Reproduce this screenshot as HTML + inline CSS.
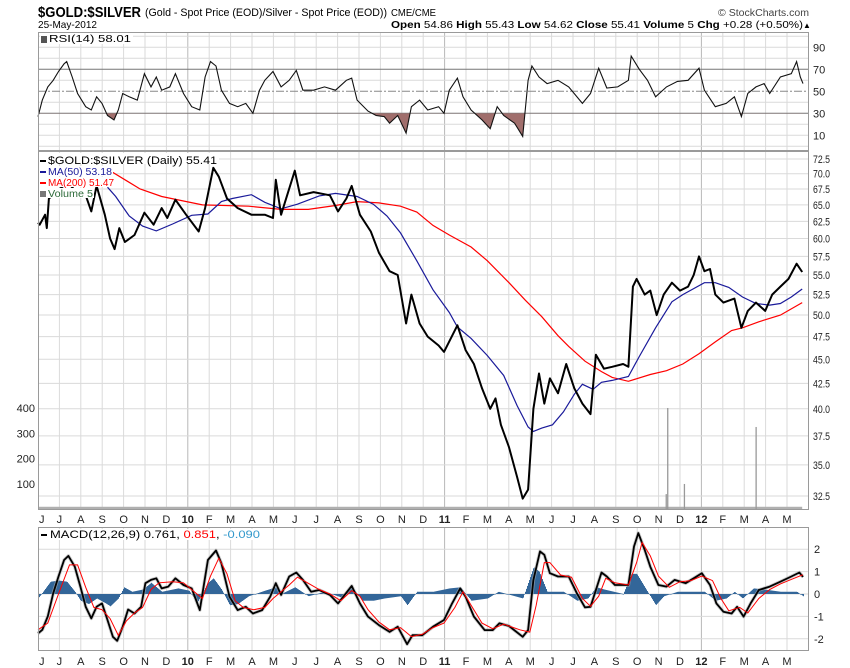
<!DOCTYPE html>
<html><head><meta charset="utf-8">
<style>
html,body{margin:0;padding:0;background:#fff;}
svg{display:block;font-family:"Liberation Sans",Arial,sans-serif;}
</style></head>
<body>
<svg id="chart" width="850" height="668" viewBox="0 0 850 668" xmlns="http://www.w3.org/2000/svg">
<g>
  <text x="38" y="17" font-size="15" font-weight="bold" textLength="103" lengthAdjust="spacingAndGlyphs">$GOLD:$SILVER</text>
  <text x="145" y="16" font-size="11" textLength="242" lengthAdjust="spacingAndGlyphs">(Gold - Spot Price (EOD)/Silver - Spot Price (EOD))</text>
  <text x="391" y="16" font-size="10" textLength="45" lengthAdjust="spacingAndGlyphs">CME/CME</text>
  <text x="718" y="16" font-size="10" fill="#444" textLength="91" lengthAdjust="spacingAndGlyphs">© StockCharts.com</text>
  <text x="38" y="28" font-size="10.5" textLength="59" lengthAdjust="spacingAndGlyphs">25-May-2012</text>
  <text x="391" y="28" font-size="10.5" textLength="412" lengthAdjust="spacingAndGlyphs"><tspan font-weight="bold">Open</tspan> 54.86  <tspan font-weight="bold">High</tspan> 55.43  <tspan font-weight="bold">Low</tspan> 54.62  <tspan font-weight="bold">Close</tspan> 55.41  <tspan font-weight="bold">Volume</tspan> 5  <tspan font-weight="bold">Chg</tspan> +0.28 (+0.50%)</text>
  <text x="803" y="28" font-size="8">▲</text>
</g>
<g id="grid"></g>
<g id="marks"></g>
<g id="overlay"></g>
</svg>
<script>
// ---------- DATA (t = months since 1-Jun-2009) ----------
const monthLabels = ["J","J","A","S","O","N","D","10","F","M","A","M","J","J","A","S","O","N","D","11","F","M","A","M","J","J","A","S","O","N","D","12","F","M","A","M"];
const priceTicks = [32.5,35,37.5,40,42.5,45,47.5,50,52.5,55,57.5,60,62.5,65,67.5,70,72.5];
const rsiTicks = [10,30,50,70,90];
const macdTicks = [-2,-1,0,1,2];
const volTicks = [100,200,300,400];

const priceDates = [0,0.08,0.33,0.41,0.51,0.71,1.0,1.4,1.8,2.0,2.23,2.49,2.74,3.12,3.37,3.58,3.8,4.06,4.51,4.97,5.4,5.78,6.04,6.42,6.92,7.51,7.81,8.19,8.45,8.83,9.33,9.97,10.6,10.98,11.11,11.36,12.0,12.25,12.88,13.64,14.02,14.41,14.66,15.04,15.55,15.93,16.43,16.81,17.2,17.45,17.83,18.21,18.72,18.97,19.6,19.98,20.37,20.75,21.13,21.38,21.63,22.01,22.39,22.65,22.9,23.15,23.41,23.66,23.92,24.3,24.68,25.06,25.44,25.82,26.07,26.45,26.83,27.34,27.59,27.8,27.97,28.35,28.61,28.91,29.24,29.62,30.0,30.38,30.64,30.89,31.14,31.4,31.65,32.03,32.54,32.87,33.17,33.55,33.98,34.31,34.69,35.07,35.45,35.71];
const priceValues = [62.3,62,63.5,61.5,66,66.5,67.5,68.5,67,66.5,66.5,64,68,63.5,60,58.5,61.5,59.5,60.5,63.8,62,64.5,63,65.8,63.5,61,64.5,71,69.5,66,64.5,63.5,63.5,63,69,63.5,70.5,66.5,67,66.5,64,66,68,63.5,61,58,55.5,55,49,52.5,49,47.5,46.5,45.8,48.8,46,44.5,42,40,41,38.5,36.5,34,32.3,33,40,43.5,40.5,43,41.5,44.5,42,40.5,39.5,45.5,44,44.2,44.5,44.2,53.5,54.5,52.5,53,50,52.5,54,53,53.5,55,57.5,55.5,55.8,52.5,51.5,52,48.5,50.5,51.5,50.5,52.5,53.5,54.5,56.5,55.4];

const ma50Dates = [3.25,3.63,4.26,4.89,5.53,6.29,7.18,7.94,8.57,9.08,9.97,10.6,11.36,12.12,13.14,13.9,14.91,15.67,16.31,16.94,17.7,18.46,19.22,19.6,20.24,21.0,21.76,22.39,22.9,23.15,23.54,24.04,24.55,25.06,25.44,25.94,26.33,26.83,27.59,28.1,28.86,29.62,30.13,31.14,31.65,32.28,32.92,33.55,34.19,34.69,35.2,35.71];
const ma50Values = [67.8,66.3,63.3,61.8,61.1,62.1,63.4,63.6,65.5,66.0,66.6,65.4,64.4,65.1,66.4,66.8,66.3,65.1,63.3,60.8,56.9,53.1,50.3,48.6,47.3,45.4,43.3,40.3,38.3,37.9,38.2,38.5,39.7,41.4,42.4,41.9,42.6,42.8,43.2,45.3,48.5,51.6,52.5,54.0,54.0,53.4,52.2,51.4,51.2,51.4,52.2,53.2];

const ma200Dates = [3.37,4.77,5.78,6.8,7.68,9.84,11.36,12.63,13.9,14.91,15.93,16.94,17.7,18.46,19.22,20.24,21.0,22.01,22.77,23.54,24.3,24.8,25.56,26.33,26.83,27.59,28.61,29.37,30.13,30.89,31.65,32.41,32.92,33.68,34.69,35.71];
const ma200Values = [70.5,67.5,66.3,65.6,65,64.8,64.3,64.3,64.9,65.5,65.3,64.8,63.9,61.9,60.5,58.8,56.9,54.0,51.8,49.8,47.6,46.4,44.8,43.7,43.1,42.7,43.4,43.8,44.5,45.6,46.9,48.2,48.5,49.2,50,51.5];

const volDates = [29.35,29.42,30.2,33.55];
const volValues = [60,400,100,325];
const typicalVolume = 10;

const rsiDates = [0,0.2,0.46,0.71,0.96,1.22,1.34,1.6,1.85,2.23,2.49,2.74,2.99,3.25,3.55,3.75,3.96,4.26,4.64,4.97,5.28,5.53,5.78,6.16,6.42,6.8,7.18,7.56,7.81,8.06,8.32,8.57,8.95,9.33,9.71,10.04,10.35,10.6,10.98,11.36,11.74,12.07,12.38,12.88,13.39,13.9,14.41,14.66,14.91,15.42,15.8,16.18,16.43,16.81,17.2,17.45,17.83,18.21,18.72,18.97,19.22,19.6,19.86,20.24,20.75,21.13,21.46,21.76,22.27,22.65,22.9,23.08,23.41,23.79,24.3,24.8,25.44,25.82,26.2,26.58,27.09,27.59,27.72,28.1,28.48,28.86,29.37,29.88,30.38,30.89,31.14,31.65,32.16,32.54,32.87,33.17,33.55,33.93,34.19,34.69,35.2,35.45,35.62,35.75];
const rsiValues = [27,42,54,60,68,75,77,63,48,36,33,45,39,28,24,33,48,45,42,66,54,63,51,54,66,48,36,33,63,77,73,51,39,36,39,30,51,60,68,54,60,69,51,51,54,51,60,62,42,32,28,27,21,28,12,36,42,33,36,30,51,62,45,33,24,16,36,28,21,9,60,73,63,57,60,54,39,48,71,53,54,60,82,70,60,45,54,59,60,71,51,36,39,45,27,48,54,57,48,63,66,77,63,57];

const macdDates = [0,0.2,0.46,0.71,0.96,1.22,1.42,1.72,1.98,2.23,2.49,2.74,2.99,3.25,3.5,3.7,3.96,4.21,4.51,4.82,5.02,5.28,5.53,5.78,6.09,6.42,6.8,7.18,7.56,7.94,8.32,8.57,8.95,9.33,9.71,10.04,10.47,10.85,11.11,11.36,11.74,12.07,12.38,12.76,13.14,13.64,14.02,14.66,15.04,15.42,15.93,16.43,16.81,17.25,17.5,17.96,18.46,18.97,19.35,19.73,19.98,20.37,20.87,21.25,21.56,22.01,22.65,22.9,23.15,23.46,23.66,23.92,24.3,24.8,25.18,25.56,25.82,26.07,26.33,26.58,26.96,27.59,27.85,28.05,28.35,28.61,28.99,29.37,29.75,30.26,30.64,31.02,31.4,31.7,32.03,32.41,32.67,32.97,33.3,33.68,34.19,34.69,35.2,35.58,35.75];
const macdValues = [-1.76,-1.6,-1.0,0.03,0.78,1.52,1.7,1.22,0.33,-0.57,-1.09,-0.57,-0.42,-1.16,-1.91,-2.09,-1.46,-0.69,-0.87,-0.57,0.48,0.63,0.7,0.25,0.33,0.7,0.4,0.25,-0.72,1.52,1.94,1.37,-0.12,-0.72,-0.57,-0.87,-0.72,-0.12,0.48,-0.04,0.78,0.96,0.63,0.1,0.18,-0.04,-0.42,0.36,-0.42,-1.01,-1.39,-1.69,-1.46,-2.24,-1.84,-1.84,-1.46,-1.16,-0.42,0.25,-0.12,-1.01,-1.61,-1.61,-1.31,-1.43,-1.91,-1.61,0.63,1.9,1.75,0.93,0.78,0.78,0.03,-0.6,-0.57,0.18,0.96,0.78,0.4,0.4,2.12,2.72,1.97,1.22,0.4,0.33,0.63,0.48,0.7,0.93,0.4,-0.42,-0.79,-0.87,-0.57,-1.01,-0.42,0.18,0.33,0.55,0.78,0.96,0.76];

const signalDates = [0,0.46,0.96,1.47,1.85,2.23,2.61,2.99,3.37,3.75,4.13,4.51,4.89,5.28,5.66,6.29,6.8,7.3,7.68,8.06,8.45,8.83,9.21,9.59,10.09,10.6,10.98,11.36,11.74,12.12,12.5,13.14,13.64,14.15,14.66,15.04,15.42,15.93,16.43,16.94,17.45,17.96,18.46,18.97,19.48,19.86,20.24,20.75,21.25,21.76,22.52,22.98,23.28,23.66,23.92,24.42,24.93,25.44,25.82,26.2,26.53,26.96,27.59,27.97,28.23,28.61,28.99,29.5,30.0,30.51,31.02,31.52,31.91,32.28,32.79,33.17,33.68,34.19,34.69,35.2,35.71,35.75];
const signalValues = [-1.6,-1.3,0,1.3,1.3,0.3,-0.6,-0.7,-1.1,-1.85,-1.2,-0.85,-0.6,0.2,0.5,0.55,0.5,0.1,-0.2,0.8,1.6,0.9,-0.3,-0.6,-0.7,-0.6,-0.2,0.1,0.4,0.75,0.55,0.2,0,-0.3,0.15,-0.1,-0.7,-1.25,-1.6,-1.5,-1.9,-1.8,-1.5,-1.3,-0.6,0.1,-0.5,-1.3,-1.55,-1.35,-1.6,-1.7,-0.5,1.4,1.4,0.85,0.75,-0.2,-0.55,-0.1,0.7,0.5,0.4,1.4,2.3,1.7,0.8,0.3,0.55,0.6,0.8,0.6,-0.2,-0.75,-0.6,-0.85,-0.2,0.2,0.45,0.65,0.85,0.85];

const histDates = [0,0.46,0.58,0.96,1.34,1.72,1.98,2.36,2.74,3.12,3.37,3.75,4.01,4.39,4.89,5.28,5.78,6.54,7.05,7.43,7.94,8.19,8.57,8.95,9.33,9.84,10.6,11.11,11.36,12.0,12.63,13.39,14.15,14.66,15.17,15.67,16.18,16.94,17.25,17.7,18.46,19.22,19.73,20.24,21.0,21.51,22.27,22.65,23.15,23.41,23.79,24.55,25.18,25.69,26.07,26.45,27.34,27.72,27.97,28.35,28.86,29.24,29.88,30.64,31.14,31.65,32.16,32.54,32.92,33.43,33.93,34.69,35.45,35.75];
const histValues = [-0.2,0.4,0.55,0.6,0.55,0.1,-0.3,-0.45,-0.2,-0.4,-0.55,-0.2,0.3,0.1,0.2,0.5,0.1,0.25,0.15,-0.4,0.5,0.7,0.2,-0.5,-0.45,-0.1,0.15,0.3,0,0.3,-0.1,0.1,-0.15,0.3,-0.3,-0.3,-0.2,-0.1,-0.5,0.1,0.1,0.25,0.3,-0.3,-0.2,0.1,-0.1,-0.2,1.2,1.0,0.1,0.1,-0.3,-0.2,0.3,0.2,0,0.9,0.9,0.3,-0.5,-0.1,0.1,0.1,0.1,-0.3,-0.2,0.1,-0.2,0.25,0.2,0.1,0.1,-0.1];

// ---------- SCALES ----------
const L = 38, R = 809;
const RSI_TOP = 32, RSI_BOT = 151, MAIN_TOP = 151, MAIN_BOT = 510, MACD_TOP = 527, MACD_BOT = 651;
function xS(t){ return L + t*21.4; }
function priceY(p){ return 159 + (Math.log(72.5) - Math.log(p))*420; }
function rsiY(v){ return 113.3 - (v-30)*1.1; }
function macdY(v){ return 594 - v*22.4; }
function volY(v){ return 509.3 - v*0.2533; }

const NS = "http://www.w3.org/2000/svg";
function mk(tag, attrs, parent){ const e=document.createElementNS(NS,tag); for(const k in attrs) e.setAttribute(k,attrs[k]); parent.appendChild(e); return e; }
const grid = document.getElementById('grid'), marks = document.getElementById('marks'), overlay = document.getElementById('overlay');
function pathD(dates, vals, yf){ return dates.map((t,i)=>(i?'L':'M')+xS(t).toFixed(1)+','+yf(vals[i]).toFixed(1)).join(''); }
function interp(dates, vals, t){ if(t<=dates[0]) return vals[0]; for(let i=1;i<dates.length;i++){ if(t<=dates[i]){ const f=(t-dates[i-1])/(dates[i]-dates[i-1]); return vals[i-1]+f*(vals[i]-vals[i-1]); } } return vals[vals.length-1]; }

// panel backgrounds + vertical grid
const panels = [[RSI_TOP,RSI_BOT,'rsi-panel'],[MAIN_TOP,MAIN_BOT,'price-panel'],[MACD_TOP,MACD_BOT,'macd-panel']];
panels.forEach(p=>{
  const r = mk('rect',{x:L,y:p[0],width:R-L,height:p[1]-p[0],fill:'#fff',stroke:'none'},grid);
  
  
  monthLabels.forEach((m,k)=>{
    if(k===0) return;
    const gl = mk('line',{x1:xS(k),x2:xS(k),y1:p[0],y2:p[1],stroke:(m.length===2?'#b8b8b8':'#dadada'),'stroke-width':1},grid);
    
    
  });
});
// RSI horizontal grid
for(let v=0; v<=100; v+=10){
  const y=rsiY(v); if(y<RSI_TOP||y>RSI_BOT) continue;
  let col='#dadada', dash=null, w=1;
  if(v===30||v===70){ col='#777'; }
  if(v===50){ col='#888'; dash='8,2,2,2'; }
  const gl = mk('line',{x1:L,x2:R,y1:y,y2:y,stroke:col,'stroke-width':w},grid);
  if(dash) gl.setAttribute('stroke-dasharray',dash);
  
  
}
rsiTicks.forEach(v=>{
  const t = mk('text',{x:813,y:rsiY(v)+4,'font-size':11,fill:'#222'},overlay);
  t.textContent = v;
  
  
});
// price grid
priceTicks.forEach(p=>{
  const y=priceY(p);
  const gl = mk('line',{x1:L,x2:R,y1:y,y2:y,stroke:'#dadada','stroke-width':1},grid);
  
  
  const t = mk('text',{x:813,y:y+4,'font-size':11,fill:'#222',textLength:17,lengthAdjust:'spacingAndGlyphs'},overlay);
  t.textContent = p.toFixed(1);
  
  
});
volTicks.forEach(v=>{
  const t = mk('text',{x:35,y:volY(v)+4,'font-size':11,fill:'#222','text-anchor':'end'},overlay);
  t.textContent = v;
  
  
});
// MACD grid
macdTicks.forEach(v=>{
  const y=macdY(v);
  const gl = mk('line',{x1:L,x2:R,y1:y,y2:y,stroke:'#dadada','stroke-width':1},grid);
  
  
  const t = mk('text',{x:814,y:y+4,'font-size':11,fill:'#222'},overlay);
  t.textContent = v;
  
  
});
// month labels (two rows)
[519,661].forEach(yy=>{
  monthLabels.forEach((m,k)=>{
    const t = mk('text',{x:xS(k)+(k===0?1:0),y:yy+4,'font-size':11,'text-anchor':(k===0?'start':'middle'),'font-weight':(m.length===2?'bold':'normal'),fill:'#222'},overlay);
    t.textContent = m;
    
    
  });
});

// ---------- VOLUME ----------
const vb = mk('rect',{x:L,y:volY(typicalVolume),width:xS(priceDates[priceDates.length-1])-L,height:MAIN_BOT-volY(typicalVolume),fill:'#b0b0b0'},marks);


volDates.forEach((t,i)=>{
  const b = mk('rect',{x:xS(t)-0.5,y:volY(volValues[i]),width:1.3,height:MAIN_BOT-volY(volValues[i]),fill:'#999'},marks);
  
  
});

// ---------- RSI ----------
const clip = mk('clipPath',{id:'below30'},marks);
mk('rect',{x:L,y:rsiY(30),width:R-L,height:RSI_BOT-rsiY(30)},clip);
const rsiFillD = pathD(rsiDates,rsiValues,rsiY)+'L'+xS(rsiDates[rsiDates.length-1])+','+rsiY(30)+'L'+xS(rsiDates[0])+','+rsiY(30)+'Z';
const rf = mk('path',{d:rsiFillD,fill:'#a06e6c','clip-path':'url(#below30)'},marks);


const rl = mk('path',{d:pathD(rsiDates,rsiValues,rsiY),fill:'none',stroke:'#111','stroke-width':1.1},marks);



// ---------- PRICE ----------
const m200 = mk('path',{d:pathD(ma200Dates,ma200Values,priceY),fill:'none',stroke:'#f00','stroke-width':1.2},marks);


const m50 = mk('path',{d:pathD(ma50Dates,ma50Values,priceY),fill:'none',stroke:'#1a1a9a','stroke-width':1.2},marks);


const pl = mk('path',{d:pathD(priceDates,priceValues,priceY),fill:'none',stroke:'#000','stroke-width':2,'stroke-linejoin':'round'},marks);



// ---------- MACD ----------
const hx0 = Math.ceil(xS(histDates[0])), hx1 = Math.floor(xS(histDates[histDates.length-1]));
for(let px=hx0; px<=hx1; px++){
  const t=(px-L)/21.4, v=interp(histDates,histValues,t);
  const y0=macdY(0), y1=macdY(v);
  const b = mk('rect',{x:px,y:Math.min(y0,y1),width:1,height:Math.max(0.6,Math.abs(y1-y0)),fill:'#336699'},marks);
  
  
}
const mh = mk('path',{d:pathD(macdDates,macdValues,macdY),fill:'none',stroke:'#aaa','stroke-width':3.5,'stroke-linejoin':'round',opacity:0.6},marks);


const ml = mk('path',{d:pathD(macdDates,macdValues,macdY),fill:'none',stroke:'#000','stroke-width':1.8,'stroke-linejoin':'round'},marks);


const sl = mk('path',{d:pathD(signalDates,signalValues,macdY),fill:'none',stroke:'#f00','stroke-width':1},marks);



// ---------- BORDERS ----------
panels.forEach(p=>{
  const r = mk('rect',{x:L+0.5,y:p[0]+0.5,width:R-L-1,height:p[1]-p[0]-1,fill:'none',stroke:'#9a9a9a','stroke-width':1},overlay);
  
  
});
</script>
<svg style="position:absolute;left:0;top:0" width="850" height="668">
  <g font-family="Liberation Sans, Arial, sans-serif">
    <rect x="40" y="33" width="93" height="11" fill="#fff"/>
    <rect x="41" y="36" width="6" height="7" fill="#555"/>
    <text x="49" y="42" font-size="10.5" textLength="82" lengthAdjust="spacingAndGlyphs">RSI(14) 58.01</text>

    <rect x="39" y="153" width="180" height="11" fill="#fff"/>
    <rect x="40" y="160" width="6" height="2" fill="#000"/>
    <text x="48" y="164" font-size="11" textLength="169" lengthAdjust="spacingAndGlyphs">$GOLD:$SILVER (Daily) 55.41</text>
    <rect x="39" y="166" width="74" height="10" fill="#fff"/>
    <rect x="40" y="171" width="6" height="2" fill="#1a1a9a"/>
    <text x="48" y="175" font-size="10" fill="#1a1a9a" textLength="64" lengthAdjust="spacingAndGlyphs">MA(50) 53.18</text>
    <rect x="39" y="177" width="76" height="10" fill="#fff"/>
    <rect x="40" y="182" width="6" height="2" fill="#f00"/>
    <text x="48" y="186" font-size="10" fill="#f00" textLength="66" lengthAdjust="spacingAndGlyphs">MA(200) 51.47</text>
    <rect x="39" y="188" width="55" height="10" fill="#fff"/>
    <rect x="40" y="191" width="6" height="6" fill="#777"/>
    <text x="48" y="197" font-size="10" fill="#2e6b3a" textLength="45" lengthAdjust="spacingAndGlyphs">Volume 5</text>

    <rect x="39" y="529" width="222" height="11" fill="#fff"/>
    <rect x="41" y="534" width="6" height="2" fill="#000"/>
    <text x="50" y="538" font-size="11" textLength="210" lengthAdjust="spacingAndGlyphs">MACD(12,26,9) 0.761<tspan fill="#000">, </tspan><tspan fill="#f00">0.851</tspan><tspan fill="#000">, </tspan><tspan fill="#3399cc">-0.090</tspan></text>
  </g>
</svg>
</body></html>
